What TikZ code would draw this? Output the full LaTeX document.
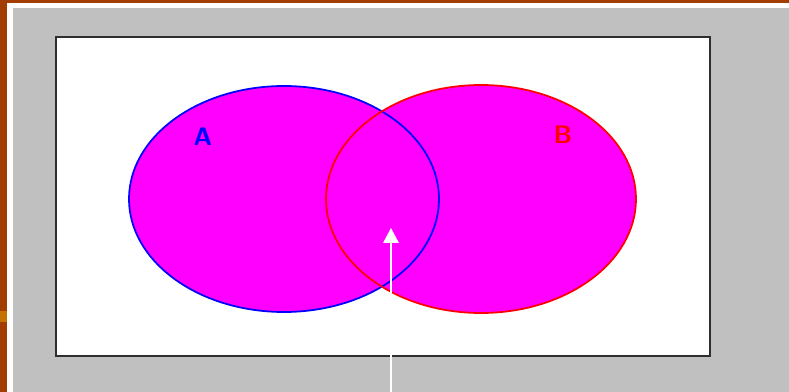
\documentclass[tikz,border=0pt]{standalone}
\usepackage{tikz}
\usetikzlibrary{arrows.meta}
\definecolor{rust}{HTML}{A33C00}
\definecolor{amber}{HTML}{C47200}
\definecolor{panel}{HTML}{C0C0C0}
\definecolor{frame}{HTML}{2E2E2E}
\definecolor{setfill}{HTML}{FF00FF}
\definecolor{setA}{HTML}{0000FF}
\definecolor{setB}{HTML}{FF0000}
\tikzset{setshape/.style={fill=setfill,draw=none},
rim/.style={line width=1pt},
lab/.style={font=\sffamily\bfseries\Large,inner sep=0pt},
pointer/.style={-{Triangle[width=3.1mm,length=3mm]},line width=1.1pt,white}}

\begin{document}
\begin{tikzpicture}[x=.02cm,y=-.02cm]
\useasboundingbox (0,0) rectangle (789,392);
% slide background
\fill[white] (0,0) rectangle (789,392);
\fill[rust] (0,0) rectangle (789,3);
\fill[rust] (0,0) rectangle (7,392);
\fill[amber] (0,311) rectangle (7,322);
\fill[panel] (13,8) rectangle (789,392);
\draw[frame,line width=1.4pt,fill=white] (56,37) rectangle (710,356);
% the two sets
\fill[setshape] (284,199) ellipse (155 and 113);
\fill[setshape] (481,199) ellipse (155 and 114);
\draw[rim,setA] (284,199) ellipse (155 and 113);
\draw[rim,setB] (481,199) ellipse (155 and 114);
\node[lab,text=setA] (labA) at (203,137) {A};
\node[lab,text=setB] (labB) at (563,135) {B};
% pointer to the overlap
\coordinate (base) at (391,392);
\coordinate (overlap) at (391,228);
\draw[pointer] (base) -- (overlap);
\end{tikzpicture}
\end{document}
